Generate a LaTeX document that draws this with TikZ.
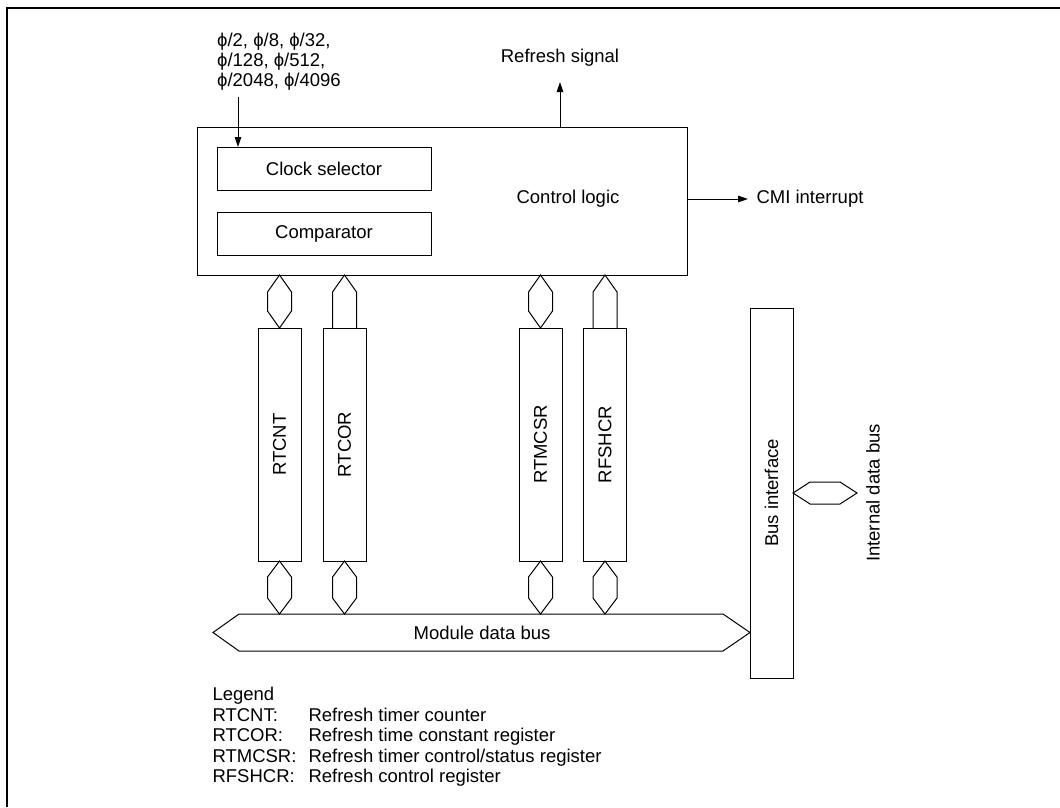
\documentclass[tikz,border=0pt]{standalone}
\usepackage{fontspec}
\setmainfont{Liberation Sans}
\usetikzlibrary{arrows.meta, calc}

\begin{document}
\begin{tikzpicture}[x=1pt,y=-1pt,
  font=\fontsize{18.5}{20}\selectfont,
  box/.style={draw,line width=1pt,inner sep=0pt,outer sep=0pt},
  reg/.style={box,minimum width=43pt,minimum height=233pt},
  arr/.style={-{Triangle[length=10pt,width=6.5pt]},line width=1pt},
  bus/.style={draw,line width=1pt,line join=miter}
]
\useasboundingbox (0,0) rectangle (1060,807);
\draw[line width=2pt] (7,807) -- (7,8) -- (1060,8);

% control block
\node[box,minimum width=490pt,minimum height=148pt] (ctrl) at (442,201) {};
\node[box,minimum width=214pt,minimum height=43pt] (clk) at (324,168.5) {Clock selector};
\node[box,minimum width=214pt,minimum height=43pt] (cmp) at (324,233.5) {Comparator};
\node (ctrllbl) at (568,199) {Control logic};

% clock input
\node[anchor=north west,align=left,inner sep=0pt] (phi) at (217,33)
  {ϕ/2, ϕ/8, ϕ/32,\\ϕ/128, ϕ/512,\\ϕ/2048, ϕ/4096};
\coordinate (phiin) at (238,97);
\draw[arr] (phiin) -- (phiin |- clk.north);

% refresh signal
\coordinate (refout) at (560,82);
\node (reflbl) at (560,58) {Refresh signal};
\draw[arr] (ctrl.north -| refout) -- (refout);

% CMI interrupt
\coordinate (cmiout) at (748,199);
\node[anchor=west] (cmilbl) at (753,199) {CMI interrupt};
\draw[arr] (ctrl.east |- cmiout) -- (cmiout);

% registers
\node[reg] (cnt)  at (279.5,444.5) {};
\node[reg] (cor)  at (344.5,444.5) {};
\node[reg] (mcsr) at (540.5,444.5) {};
\node[reg] (fsh)  at (605,444.5) {};
\node[rotate=90] at (cnt)  {RTCNT};
\node[rotate=90] at (cor)  {RTCOR};
\node[rotate=90] at (mcsr) {RTMCSR};
\node[rotate=90] at (fsh)  {RFSHCR};

% register <-> control logic
\draw[bus] (ctrl.south -| cnt) -- ++(12,17) -- ++(0,19) -- (cnt.north) -- ++(-12,-17) -- ++(0,-19) -- cycle;
\draw[bus] (ctrl.south -| mcsr) -- ++(12,17) -- ++(0,19) -- (mcsr.north) -- ++(-12,-17) -- ++(0,-19) -- cycle;
\draw[bus] (cor.north) ++(-12,0) -- ++(0,-36) -- (ctrl.south -| cor) -- ++(12,17) -- ++(0,36);
\draw[bus] (fsh.north) ++(-12,0) -- ++(0,-36) -- (ctrl.south -| fsh) -- ++(12,17) -- ++(0,36);

% register <-> module data bus
\foreach \r in {cnt,cor,mcsr,fsh}
  \draw[bus] (\r.south) -- ++(12,16) -- ++(0,21) -- ++(-12,16) -- ++(-12,-16) -- ++(0,-21) -- cycle;

% bus interface
\node[box,minimum width=43pt,minimum height=370pt] (busif) at (771.5,493) {};
\node[rotate=90] at (busif) {Bus interface};

% module data bus
\draw[bus] (213,632.5) -- (239,614) -- (723,614) -- (busif.west |- 0,632.5) -- (723,651) -- (239,651) -- cycle;
\node (mbus) at (482,632.5) {Module data bus};

% internal data bus
\draw[bus] (busif.east |- 0,493) -- ++(17,-11) -- ++(30,0) -- ++(17,11) -- ++(-17,11) -- ++(-30,0) -- cycle;
\node[rotate=90] (ibus) at (873,493) {Internal data bus};

% legend
\node[anchor=base west] (leg) at (209,700) {Legend};
\node[anchor=base west] (k1) at (209,721) {RTCNT:};
\node[anchor=base west] (k2) at (209,741) {RTCOR:};
\node[anchor=base west] (k3) at (209,762) {RTMCSR:};
\node[anchor=base west] (k4) at (209,782) {RFSHCR:};
\node[anchor=base west] (d1) at (305,721) {Refresh timer counter};
\node[anchor=base west] (d2) at (305,741) {Refresh time constant register};
\node[anchor=base west] (d3) at (305,762) {Refresh timer control/status register};
\node[anchor=base west] (d4) at (305,782) {Refresh control register};
\end{tikzpicture}
\end{document}
